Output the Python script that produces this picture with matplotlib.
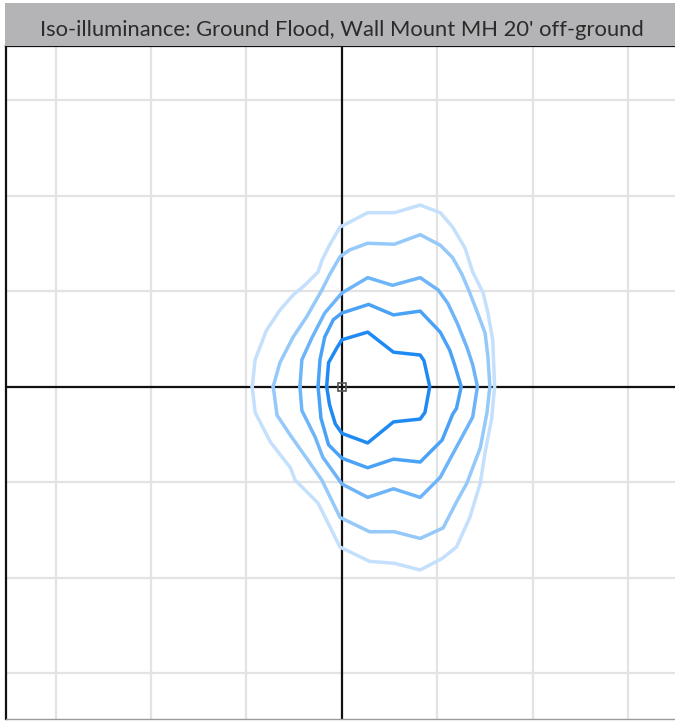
import matplotlib
matplotlib.use("Agg")
import matplotlib.pyplot as plt
from matplotlib.patches import Rectangle

title = "Iso-illuminance: Ground Flood, Wall Mount MH 20' off-ground"

# contour vertices (grid units, 1 unit = one grid square)
c1_x = [-0.16, -0.14, -0.05, 0.00, 0.27, 0.54, 0.82, 0.86, 0.92, 0.87, 0.82, 0.54, 0.27, 0.00, -0.07, -0.13, -0.16]
c1_y = [0.00, 0.25, 0.41, 0.49, 0.57, 0.36, 0.33, 0.27, 0.00, -0.27, -0.34, -0.37, -0.59, -0.49, -0.39, -0.19, 0.00]

c2_x = [-0.25, -0.23, -0.18, -0.09, 0.00, 0.28, 0.54, 0.82, 1.03, 1.13, 1.18, 1.25, 1.20, 1.16, 1.05, 0.82, 0.54, 0.27, 0.00, -0.14, -0.22, -0.25]
c2_y = [0.00, 0.28, 0.52, 0.70, 0.77, 0.86, 0.75, 0.79, 0.57, 0.38, 0.23, 0.00, -0.23, -0.29, -0.56, -0.79, -0.76, -0.85, -0.75, -0.61, -0.33, 0.00]

c3_x = [-0.44, -0.42, -0.31, -0.18, 0.00, 0.27, 0.53, 0.82, 1.01, 1.11, 1.21, 1.31, 1.37, 1.42, 1.37, 1.24, 1.03, 0.82, 0.54, 0.27, 0.00, -0.20, -0.28, -0.42, -0.44]
c3_y = [0.00, 0.28, 0.52, 0.77, 0.98, 1.14, 1.06, 1.14, 1.01, 0.87, 0.66, 0.41, 0.23, 0.00, -0.32, -0.56, -0.95, -1.16, -1.07, -1.16, -1.02, -0.74, -0.53, -0.25, 0.00]

c4_x = [-0.72, -0.65, -0.51, -0.37, -0.21, -0.13, -0.02, 0.08, 0.27, 0.55, 0.82, 1.03, 1.16, 1.26, 1.34, 1.41, 1.50, 1.53, 1.55, 1.52, 1.45, 1.31, 1.21, 1.06, 0.82, 0.55, 0.29, -0.02, -0.21, -0.37, -0.54, -0.68, -0.72]
c4_y = [0.00, 0.25, 0.52, 0.73, 1.01, 1.17, 1.36, 1.43, 1.50, 1.49, 1.59, 1.48, 1.35, 1.17, 0.98, 0.80, 0.56, 0.31, 0.00, -0.27, -0.64, -1.01, -1.19, -1.48, -1.59, -1.52, -1.52, -1.37, -0.98, -0.75, -0.51, -0.30, 0.00]

c5_x = [-0.94, -0.91, -0.79, -0.65, -0.51, -0.39, -0.25, -0.21, -0.13, -0.02, 0.27, 0.55, 0.82, 1.03, 1.16, 1.29, 1.37, 1.48, 1.53, 1.58, 1.60, 1.57, 1.50, 1.45, 1.34, 1.20, 1.05, 0.82, 0.55, 0.29, -0.02, -0.25, -0.49, -0.54, -0.75, -0.91, -0.94]
c5_y = [0.00, 0.28, 0.59, 0.80, 0.96, 1.06, 1.20, 1.32, 1.48, 1.67, 1.82, 1.82, 1.90, 1.82, 1.67, 1.45, 1.20, 0.98, 0.77, 0.49, 0.00, -0.33, -0.69, -1.01, -1.37, -1.68, -1.80, -1.92, -1.85, -1.83, -1.68, -1.22, -0.98, -0.85, -0.58, -0.27, 0.00]

grid_ticks = [-3, -2, -1, 0, 1, 2, 3]

contours = [(c5_x, c5_y, "#c4e0fd"), (c4_x, c4_y, "#94c9fa"),
            (c3_x, c3_y, "#6db5f8"), (c2_x, c2_y, "#4aa2f6"),
            (c1_x, c1_y, "#1f8af4")]

fig = plt.figure(figsize=(6.75, 7.21), dpi=100)
W, H = 675, 721

# title bar
fig.patches.append(Rectangle((5 / W, 1 - 46 / H), 1 - 5 / W, 43 / H,
                             transform=fig.transFigure, facecolor="#b4b4b7",
                             edgecolor="none", zorder=0))
fig.text(342 / W, 1 - 30 / H, title, ha="center", va="center",
         fontsize=15.8, color="#2b2b2b", family=["Lato", "DejaVu Sans"])

ax = fig.add_axes([6 / W, 2 / H, 1 - 6 / W, 1 - 48 / H])
ax.set_xlim(-3.52, 3.49)
ax.set_ylim(-3.48, 3.565)

for t in grid_ticks:
    if t == 0:
        continue
    ax.axvline(t, color="#e3e3e3", lw=1.6, zorder=1)
    ax.axhline(t, color="#e3e3e3", lw=1.6, zorder=1)

ax.axvline(0, color="#111111", lw=1.6, zorder=2)
ax.axhline(0, color="#111111", lw=1.6, zorder=2)

for xs, ys, col in contours:
    ax.plot(xs, ys, color=col, lw=2.5, solid_joinstyle="round",
            solid_capstyle="round", zorder=3)

ax.plot([0], [0], marker="s", markersize=5.5, markerfacecolor="none",
        markeredgecolor="#555555", markeredgewidth=1.2, zorder=4)

ax.set_xticks([])
ax.set_yticks([])
ax.spines["right"].set_visible(False)
ax.spines["left"].set_color("#111111")
ax.spines["left"].set_linewidth(1.6)
ax.spines["top"].set_color("#111111")
ax.spines["top"].set_linewidth(1.6)
ax.spines["bottom"].set_color("#9a9a9a")
ax.spines["bottom"].set_linewidth(1.0)

fig.savefig("out.png", dpi=100)
